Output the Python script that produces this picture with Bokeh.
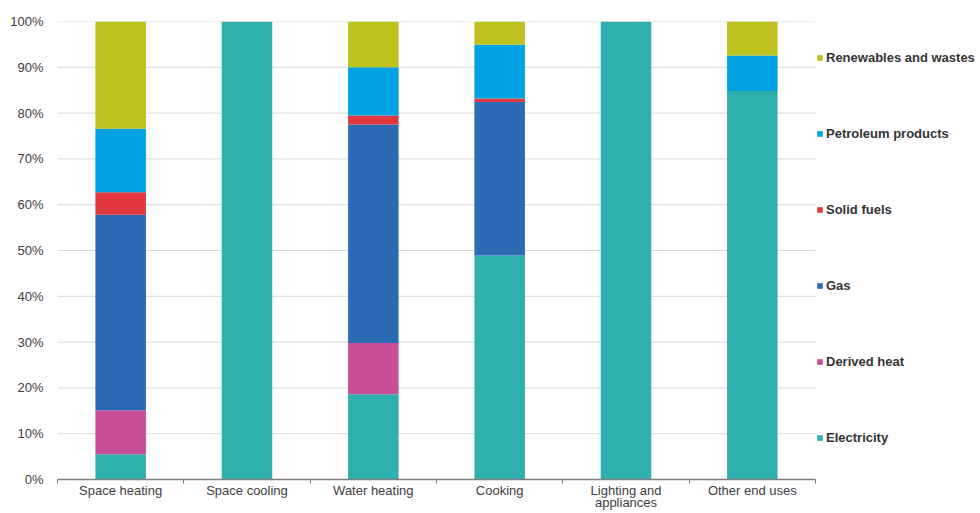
from bokeh.plotting import figure
from bokeh.models import (Range1d, FixedTicker, PrintfTickFormatter, Legend, LegendItem,
                          ColumnDataSource)
from bokeh.embed import file_html
from bokeh.resources import INLINE

categories = ["Space heating", "Space cooling", "Water heating", "Cooking",
              "Lighting and\nappliances", "Other end uses"]
electricity = [5.5, 100.0, 18.6, 48.9, 100.0, 84.8]
derived_heat = [9.6, 0.0, 11.2, 0.0, 0.0, 0.0]
gas = [42.7, 0.0, 47.7, 33.5, 0.0, 0.0]
solid_fuels = [4.9, 0.0, 2.0, 0.8, 0.0, 0.0]
petroleum = [13.9, 0.0, 10.5, 11.7, 0.0, 7.8]
renewables = [23.4, 0.0, 10.0, 5.1, 0.0, 7.4]

series_names = ["Electricity", "Derived heat", "Gas", "Solid fuels",
                "Petroleum products", "Renewables and wastes"]
series_keys = ["electricity", "derived_heat", "gas", "solid_fuels", "petroleum", "renewables"]
colors = ["#30afaf", "#c84f97", "#2a6bb3", "#e0383e", "#00a3e1", "#bec21f"]
y_ticks = [0, 10, 20, 30, 40, 50, 60, 70, 80, 90, 100]

n = len(categories)
xpos = [i + 0.5 for i in range(n)]
source = ColumnDataSource(dict(
    x=xpos,
    electricity=electricity, derived_heat=derived_heat, gas=gas,
    solid_fuels=solid_fuels, petroleum=petroleum, renewables=renewables,
))

# frame spans 57..980 px; the categories occupy 57..815 px, the rest holds the legend
x_end = n * (980 - 57) / (815 - 57)

p = figure(width=980, height=513, output_backend="svg", toolbar_location=None,
           x_range=Range1d(0, x_end), y_range=Range1d(0, 100),
           min_border_left=57, min_border_right=0, min_border_top=21, min_border_bottom=34)
p.outline_line_color = None
p.background_fill_color = "white"
p.xgrid.grid_line_color = None
p.ygrid.grid_line_color = None

# horizontal gridlines limited to the category area
p.segment(x0=[0] * len(y_ticks), x1=[n] * len(y_ticks), y0=y_ticks, y1=y_ticks,
          line_color="#d9d9d9", line_width=1)

renderers = p.vbar_stack(series_keys, x="x", width=0.4, color=colors, line_color=None,
                         source=source)

# y axis
p.yaxis.ticker = FixedTicker(ticks=y_ticks)
p.yaxis.formatter = PrintfTickFormatter(format="%d%%")
p.yaxis.axis_line_color = None
p.yaxis.major_tick_line_color = None
p.yaxis.minor_tick_line_color = None
p.yaxis.major_tick_out = 0
p.yaxis.major_tick_in = 0
p.yaxis.major_label_standoff = 14
p.yaxis.major_label_text_font = "Liberation Sans"
p.yaxis.major_label_text_font_size = "13px"
p.yaxis.major_label_text_color = "#404040"

# x axis: labels at category centres, small ticks at category boundaries
p.xaxis.bounds = (0, n)
p.xaxis.ticker = FixedTicker(ticks=xpos, minor_ticks=list(range(n + 1)))
p.xaxis.major_label_overrides = {xpos[i]: categories[i] for i in range(n)}
p.xaxis.axis_line_color = "#7f7f7f"
p.xaxis.axis_line_width = 1.5
p.xaxis.major_tick_line_color = None
p.xaxis.major_tick_out = 0
p.xaxis.major_tick_in = 0
p.xaxis.minor_tick_line_color = "#7f7f7f"
p.xaxis.minor_tick_out = 4
p.xaxis.minor_tick_in = 0
p.xaxis.major_label_standoff = -1
p.xaxis.major_label_text_font = "Liberation Sans"
p.xaxis.major_label_text_font_size = "13px"
p.xaxis.major_label_text_color = "#404040"
p.xaxis.major_label_text_line_height = 0.85

items = [LegendItem(label=series_names[i], renderers=[renderers[i]])
         for i in reversed(range(len(series_names)))]
legend = Legend(items=items, location=(759, 4), border_line_color=None,
                background_fill_alpha=0, padding=0, margin=0, spacing=0,
                label_height=76, glyph_height=7, glyph_width=7, label_standoff=3,
                label_text_font="Liberation Sans", label_text_font_style="bold",
                label_text_font_size="13px", label_text_color="#333333",
                label_text_baseline="middle")
p.add_layout(legend)

open("out.html", "w").write(file_html(p, INLINE))
